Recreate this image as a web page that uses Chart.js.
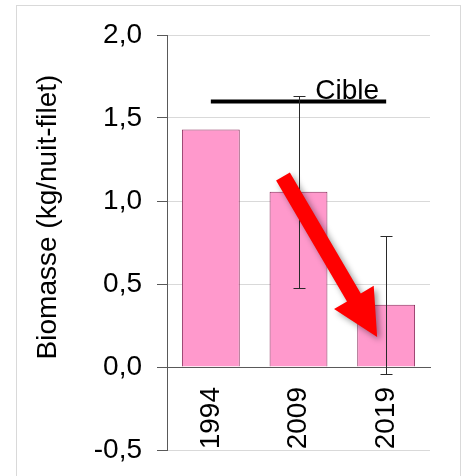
<!DOCTYPE html>
<html>
<head>
<meta charset="utf-8">
<script src="https://cdn.jsdelivr.net/npm/chart.js@4"></script>
<style>
  html, body { margin: 0; padding: 0; background: #fff; }
  #chart { display: block; }
</style>
</head>
<body>
<canvas id="chart" width="466" height="476"></canvas>
<script>
// values
const years = ['1994', '2009', '2019'];
const biomass = [1.43, 1.055, 0.375];
const errors = [null, 0.58, 0.415];
const targetValue = 1.6;
const targetLine = [targetValue, targetValue, targetValue];
const targetLabel = 'Cible';
const axisTitle = 'Biomasse (kg/nuit-filet)';
const yMin = -0.5;
const yMax = 2.0;
const yStep = 0.5;
// arrow ends as [category index, value]
const arrowFrom = [0.823, 1.148];
const arrowTo = [1.897, 0.18];

const FONT = '"Liberation Sans", Arial, sans-serif';

const extras = {
    id: 'extras',
    beforeDraw(chart) {
        const ctx = chart.ctx;
        ctx.save();
        ctx.strokeStyle = '#d9d9d9';
        ctx.lineWidth = 1;
        ctx.strokeRect(16.5, 5.5, 444, 480);
        ctx.restore();
    },
    afterDatasetsDraw(chart) {
        const ctx = chart.ctx;
        const x = chart.scales.x;
        const y = chart.scales.y;

        // error bars
        ctx.save();
        ctx.strokeStyle = '#2a2a2a';
        ctx.lineWidth = 1;
        errors.forEach(function(err, i) {
            if (err == null) return;
            const px = Math.round(x.getPixelForValue(i)) + 0.5;
            const top = Math.round(y.getPixelForValue(biomass[i] + err)) + 0.5;
            const bot = Math.round(y.getPixelForValue(biomass[i] - err)) + 0.5;
            ctx.beginPath();
            ctx.moveTo(px, top); ctx.lineTo(px, bot);
            ctx.moveTo(px - 6, top); ctx.lineTo(px + 6, top);
            ctx.moveTo(px - 6, bot); ctx.lineTo(px + 6, bot);
            ctx.stroke();
        });
        ctx.restore();

        // target label
        ctx.save();
        ctx.fillStyle = '#000';
        ctx.font = '28px ' + FONT;
        ctx.textAlign = 'right';
        ctx.textBaseline = 'alphabetic';
        ctx.fillText(targetLabel, x.getPixelForValue(2) - 7, y.getPixelForValue(targetValue) - 2);
        ctx.restore();

        // axis title
        ctx.save();
        ctx.fillStyle = '#000';
        ctx.font = '28px ' + FONT;
        ctx.textAlign = 'center';
        ctx.textBaseline = 'middle';
        ctx.translate(48, 217);
        ctx.rotate(-Math.PI / 2);
        ctx.fillText(axisTitle, 0, 0);
        ctx.restore();

        // red arrow
        const x1 = x.getPixelForValue(arrowFrom[0]);
        const y1 = y.getPixelForValue(arrowFrom[1]);
        const x2 = x.getPixelForValue(arrowTo[0]);
        const y2 = y.getPixelForValue(arrowTo[1]);
        const len = Math.hypot(x2 - x1, y2 - y1);
        const ux = (x2 - x1) / len, uy = (y2 - y1) / len;
        const nx = -uy, ny = ux;
        const shaft = 8, head = 23, headLen = 46;
        const bx = x2 - ux * headLen, by = y2 - uy * headLen;
        ctx.save();
        ctx.shadowColor = 'rgba(0,0,0,0.4)';
        ctx.shadowBlur = 6;
        ctx.shadowOffsetX = 3;
        ctx.shadowOffsetY = 3;
        ctx.fillStyle = '#ff0000';
        ctx.beginPath();
        ctx.moveTo(x1 + nx * shaft, y1 + ny * shaft);
        ctx.lineTo(bx + nx * shaft, by + ny * shaft);
        ctx.lineTo(bx + nx * head, by + ny * head);
        ctx.lineTo(x2, y2);
        ctx.lineTo(bx - nx * head, by - ny * head);
        ctx.lineTo(bx - nx * shaft, by - ny * shaft);
        ctx.lineTo(x1 - nx * shaft, y1 - ny * shaft);
        ctx.closePath();
        ctx.fill();
        ctx.restore();
    }
};

new Chart(document.getElementById('chart'), {
    type: 'bar',
    data: {
        labels: years,
        datasets: [{
            data: biomass,
            backgroundColor: '#ff99cc',
            borderColor: '#8a2d5c',
            borderWidth: 1,
            barPercentage: 0.66,
            categoryPercentage: 1,
            order: 2
        }, {
            type: 'line',
            data: targetLine,
            borderColor: '#000',
            borderWidth: 4,
            pointRadius: 0,
            fill: false,
            order: 1
        }]
    },
    options: {
        responsive: false,
        animation: false,
        layout: {
            padding: { left: 0, right: 36, top: 35, bottom: 26 }
        },
        plugins: {
            legend: { display: false },
            tooltip: { enabled: false }
        },
        scales: {
            x: {
                position: { y: 0 },
                grid: { display: false, drawTicks: false },
                border: { color: '#595959', width: 1 },
                ticks: {
                    color: '#000',
                    font: { size: 28, family: FONT },
                    padding: 20,
                    minRotation: 90,
                    maxRotation: 90
                },
                afterFit: function(scale) { scale.height = 0; }
            },
            y: {
                min: yMin,
                max: yMax,
                grid: {
                    color: '#d9d9d9',
                    tickColor: '#595959',
                    tickLength: 10
                },
                border: { color: '#595959', width: 1 },
                ticks: {
                    stepSize: yStep,
                    color: '#000',
                    font: { size: 28, family: FONT },
                    padding: 15,
                    callback: function(value) {
                        return value.toFixed(1).replace('.', ',');
                    }
                },
                afterFit: function(scale) {
                    scale.width = 167;
                    scale.paddingTop = 0;
                    scale.paddingBottom = 0;
                }
            }
        }
    },
    plugins: [extras]
});
</script>
</body>
</html>
